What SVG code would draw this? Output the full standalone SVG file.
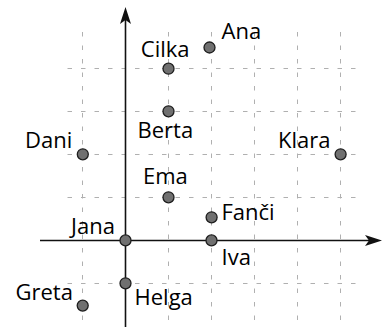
<svg xmlns="http://www.w3.org/2000/svg" width="382" height="327" viewBox="0 0 382 327">
<defs>
<style>
.grid line{stroke:#b0b0b0;stroke-width:1;stroke-dasharray:4.5 9;fill:none}
.axis{stroke:#111;stroke-width:1.6;fill:none}
.pt{fill:#707070;stroke:#1e1e1e;stroke-width:1.3}
text{font-family:"Open Sans","Liberation Sans",sans-serif;font-size:22px;fill:#000}
</style>
<marker id="arr" viewBox="0 0 17 11" refX="4" refY="5.5" markerWidth="17" markerHeight="11" markerUnits="userSpaceOnUse" orient="auto">
<path d="M0,0 L17,5.5 L0,11 L4,5.5 Z" fill="#111"/>
</marker>
</defs>
<rect width="382" height="327" fill="#fff"/>
<g class="grid">
<line x1="82.5" y1="32" x2="82.5" y2="327"/>
<line x1="168.5" y1="32" x2="168.5" y2="327"/>
<line x1="211.5" y1="32" x2="211.5" y2="327"/>
<line x1="254.5" y1="32" x2="254.5" y2="327"/>
<line x1="297.5" y1="32" x2="297.5" y2="327"/>
<line x1="340.5" y1="32" x2="340.5" y2="327"/>
<line x1="67.5" y1="68.5" x2="357" y2="68.5"/>
<line x1="67.5" y1="111.5" x2="357" y2="111.5"/>
<line x1="67.5" y1="154.5" x2="357" y2="154.5"/>
<line x1="67.5" y1="197.5" x2="357" y2="197.5"/>
<line x1="67.5" y1="283.5" x2="357" y2="283.5"/>
</g>
<g id="connectors">
<line class="axis" x1="40" y1="240.5" x2="369" y2="240.5" marker-end="url(#arr)"/>
<line class="axis" x1="125.5" y1="327" x2="125.5" y2="20" marker-end="url(#arr)"/>
</g>
<g id="ana"><circle class="pt" cx="209.5" cy="47.5" r="5.5"/><text x="221.5" y="39">Ana</text></g>
<g id="cilka"><circle class="pt" cx="168.5" cy="68.7" r="5.5"/><text x="140.8" y="57">Cilka</text></g>
<g id="berta"><circle class="pt" cx="168.5" cy="111.3" r="5.5"/><text x="137.5" y="138.3">Berta</text></g>
<g id="dani"><circle class="pt" cx="82.8" cy="154.3" r="5.5"/><text x="25" y="147.8">Dani</text></g>
<g id="klara"><circle class="pt" cx="340.6" cy="154.3" r="5.5"/><text x="278" y="147.8">Klara</text></g>
<g id="ema"><circle class="pt" cx="168.5" cy="197.3" r="5.5"/><text x="143" y="184">Ema</text></g>
<g id="fanci"><circle class="pt" cx="211.6" cy="217.3" r="5.5"/><text x="221.5" y="219.5">Fanči</text></g>
<g id="jana"><circle class="pt" cx="125.5" cy="240.4" r="5.5"/><text x="71" y="234">Jana</text></g>
<g id="iva"><circle class="pt" cx="211.5" cy="240.4" r="5.5"/><text x="221.5" y="265">Iva</text></g>
<g id="helga"><circle class="pt" cx="125.5" cy="283.3" r="5.5"/><text x="134.5" y="305">Helga</text></g>
<g id="greta"><circle class="pt" cx="82.7" cy="305.6" r="5.5"/><text x="15.5" y="300">Greta</text></g>
</svg>
